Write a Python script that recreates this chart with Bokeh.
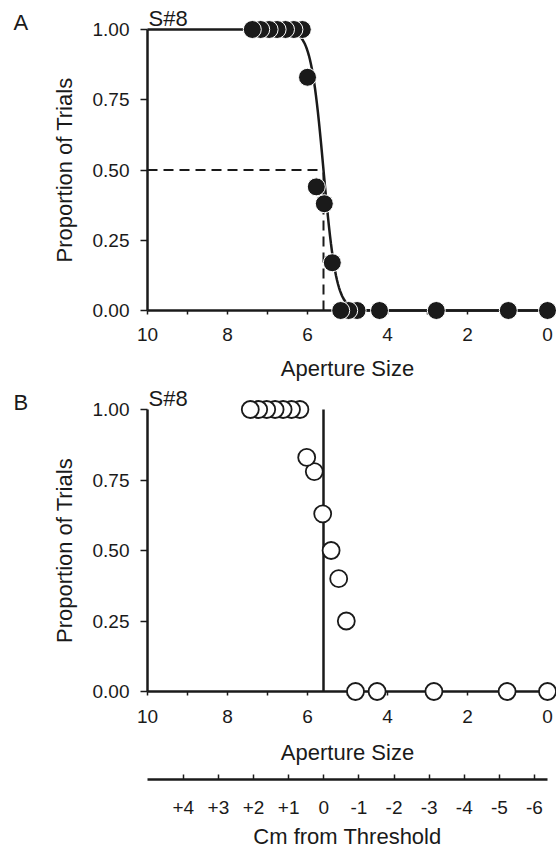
import numpy as np
from bokeh.plotting import figure
from bokeh.layouts import column
from bokeh.models import Range1d, FixedTicker
from bokeh.core.properties import value
from bokeh.embed import file_html
from bokeh.resources import INLINE

# ---------------- data ----------------
aperture_ticks = [10, 8, 6, 4, 2, 0]
aperture_minor_ticks = [9, 7, 5, 3, 1]
prop_ticks = [0.0, 0.25, 0.5, 0.75, 1.0]
prop_labels = ["0.00", "0.25", "0.50", "0.75", "1.00"]
cm_ticks = [4, 3, 2, 1, 0, -1, -2, -3, -4, -5, -6]
cm_labels = ["+4", "+3", "+2", "+1", "0", "-1", "-2", "-3", "-4", "-5", "-6"]

# Panel A (filled circles) - ordered by increasing aperture
a_aperture = [0.0, 0.98, 2.78, 4.20, 4.76, 4.97, 5.17, 5.38, 5.58, 5.78, 6.00,
              6.13, 6.34, 6.55, 6.76, 6.96, 7.17, 7.38]
a_prop = [0.0, 0.0, 0.0, 0.0, 0.0, 0.0, 0.0, 0.17, 0.38, 0.44, 0.83,
          1.0, 1.0, 1.0, 1.0, 1.0, 1.0, 1.0]

# Panel B (open circles)
b_aperture = [0.0, 1.01, 2.84, 4.26, 4.80, 5.03, 5.22, 5.41, 5.62, 5.83, 6.02,
              6.19, 6.40, 6.61, 6.81, 7.02, 7.22, 7.43]
b_prop = [0.0, 0.0, 0.0, 0.0, 0.0, 0.25, 0.40, 0.50, 0.63, 0.78, 0.83,
          1.0, 1.0, 1.0, 1.0, 1.0, 1.0, 1.0]

threshold = 5.6        # aperture at 50% (fitted)
fit_slope = 0.16       # spread of fitted logistic psychometric function
aperture_max = 10.0
cm_range = (5.02, -6.37)

subject = "S#8"

FONT = "Liberation Sans"
INK = "#1a1a1a"
LEFT, RIGHT, WIDTH = 147, 9, 556


def base_fig(height, top, bottom, lab_standoff, title_standoff):
    p = figure(width=WIDTH, height=height, x_range=Range1d(10, 0), y_range=Range1d(0, 1),
               output_backend="svg", toolbar_location=None,
               min_border_left=LEFT, min_border_right=RIGHT,
               min_border_top=top, min_border_bottom=bottom)
    p.outline_line_color = None
    p.xgrid.visible = False
    p.ygrid.visible = False
    for ax in (p.xaxis[0], p.yaxis[0]):
        ax.axis_line_width = 2.5
        ax.axis_line_color = INK
        ax.major_tick_line_width = 1.5
        ax.major_tick_line_color = INK
        ax.minor_tick_line_width = 1.5
        ax.minor_tick_line_color = INK
        ax.major_tick_in = 0
        ax.minor_tick_in = 0
        ax.major_label_text_font = FONT
        ax.major_label_text_font_size = "19px"
        ax.major_label_text_color = INK
        ax.axis_label_text_font = FONT
        ax.axis_label_text_font_size = "22px"
        ax.axis_label_text_font_style = "normal"
        ax.axis_label_text_color = INK
    xa = p.xaxis[0]
    xa.ticker = FixedTicker(ticks=aperture_ticks, minor_ticks=aperture_minor_ticks)
    xa.major_tick_out = 4
    xa.minor_tick_out = 4
    xa.major_label_standoff = lab_standoff
    xa.axis_label = "Aperture Size"
    xa.axis_label_standoff = title_standoff
    ya = p.yaxis[0]
    ya.ticker = FixedTicker(ticks=prop_ticks)
    ya.major_label_overrides = dict(zip(prop_ticks, prop_labels))
    ya.major_tick_out = 7
    ya.major_label_standoff = 11
    ya.axis_label = "Proportion of Trials"
    ya.axis_label_standoff = 13
    return p


def add_labels(p, letter, dy_letter, dy_subj):
    p.text(x=[aperture_max], y=[1.0], text=[letter], x_offset=-134, y_offset=dy_letter,
           text_font=value(FONT), text_font_size="22px", text_color=INK,
           text_baseline="middle", text_align="left", level="overlay")
    p.text(x=[aperture_max], y=[1.0], text=[subject], x_offset=1, y_offset=dy_subj,
           text_font=value(FONT), text_font_size="22px", text_color=INK,
           text_baseline="middle", text_align="left", level="overlay")


# ---------------- Panel A ----------------
pA = base_fig(29 + 281 + 74, 29, 74, 13, 12)
xs = np.linspace(aperture_max, 0, 400)
fit = 1.0 / (1.0 + np.exp(-(xs - threshold) / fit_slope))
pA.line(xs, fit, line_color=INK, line_width=2.5, level="overlay")
pA.line([aperture_max, threshold], [0.5, 0.5], line_color=INK, line_width=2,
        line_dash="10 6", level="overlay")
pA.line([threshold, threshold], [0.0, 0.5], line_color=INK, line_width=2,
        line_dash="10 6", level="overlay")
pA.scatter(a_aperture, a_prop, marker="circle", size=18, fill_color=INK,
           line_color="white", line_width=1, level="overlay")
add_labels(pA, "A", -7, -11)

# ---------------- Panel B ----------------
pB = base_fig(25 + 282 + 82, 25, 82, 14, 14)
pB.line([threshold, threshold], [0.0, 1.0], line_color=INK, line_width=2.5, level="overlay")
pB.scatter(b_aperture, b_prop, marker="circle", size=17, fill_color="white",
           line_color=INK, line_width=1.8, level="overlay")
add_labels(pB, "B", -7, -11)

# ---------------- Cm-from-threshold axis ----------------
pC = figure(width=WIDTH, height=78, x_range=Range1d(*cm_range), y_range=Range1d(0, 1),
            output_backend="svg", toolbar_location=None, y_axis_location=None,
            min_border_left=LEFT, min_border_right=RIGHT, min_border_top=0, min_border_bottom=72)
pC.outline_line_color = None
pC.xgrid.visible = False
pC.ygrid.visible = False
ca = pC.xaxis[0]
ca.ticker = FixedTicker(ticks=cm_ticks)
ca.major_label_overrides = dict(zip(cm_ticks, cm_labels))
ca.axis_line_width = 2.5
ca.axis_line_color = INK
ca.major_tick_line_width = 1.5
ca.major_tick_line_color = INK
ca.major_tick_in = 5
ca.major_tick_out = 0
ca.minor_tick_line_color = None
ca.major_label_standoff = 21
ca.major_label_text_font = FONT
ca.major_label_text_font_size = "19px"
ca.major_label_text_color = INK
ca.axis_label = "Cm from Threshold"
ca.axis_label_standoff = 7
ca.axis_label_text_font = FONT
ca.axis_label_text_font_size = "22px"
ca.axis_label_text_font_style = "normal"
ca.axis_label_text_color = INK

layout = column(pA, pB, pC, spacing=0)
open("out.html", "w").write(file_html(layout, INLINE))
